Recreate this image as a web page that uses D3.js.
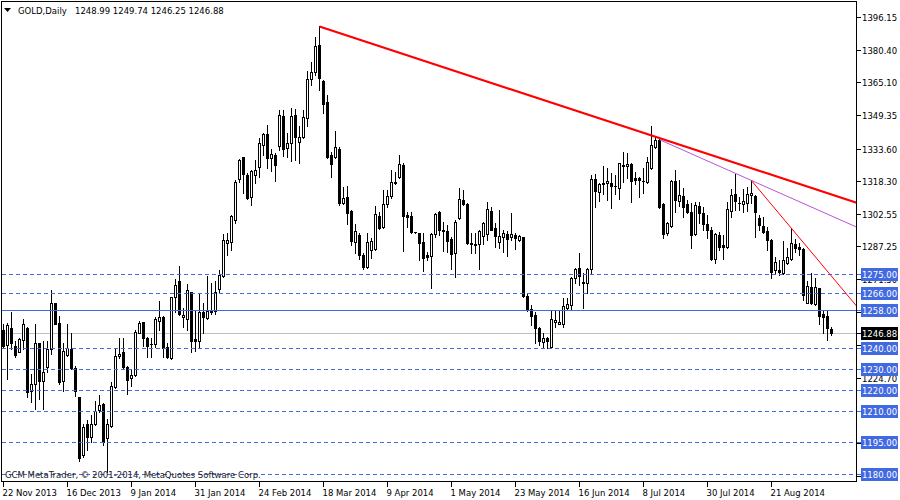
<!DOCTYPE html>
<html><head><meta charset="utf-8">
<script src="https://cdn.jsdelivr.net/npm/d3@7"></script>
<style>
html,body{margin:0;padding:0;background:#fff;}
svg{display:block;}
text{font-family:"DejaVu Sans",sans-serif;font-size:8.5px;}
</style></head><body>
<svg id="c" width="900" height="500"></svg>
<script>
const symbolTitle = "GOLD,Daily";
const lastQuote = ["1248.99","1249.74","1246.25","1246.88"];

const openP = [1248.3,1241.3,1249.3,1241.0,1238.1,1243.6,1249.3,1219.7,1222.8,1242.2,
1224.4,1230.7,1239.4,1261.4,1251.7,1224.4,1236.5,1239.4,1230.4,1216.8,
1189.0,1203.9,1197.6,1203.9,1210.5,1213.4,1197.3,1202.7,1221.3,1236.2,
1237.8,1231.0,1225.7,1227.2,1247.2,1252.4,1244.5,1241.7,1241.7,1252.9,
1254.8,1240.6,1235.0,1264.0,1271.8,1254.5,1253.6,1266.4,1244.0,1243.3,
1257.2,1254.0,1257.2,1257.5,1267.8,1274.2,1290.0,1290.5,1300.8,1320.1,
1330.6,1322.2,1311.9,1322.2,1325.9,1336.5,1341.7,1330.1,1331.7,1336.0,
1350.3,1335.2,1337.3,1350.8,1338.0,1340.1,1349.2,1367.7,1371.0,1384.0,
1366.9,1356.8,1331.7,1330.6,1334.6,1308.7,1311.6,1305.1,1290.5,1293.7,
1284.2,1278.6,1286.5,1286.9,1302.7,1297.3,1308.3,1312.2,1318.7,1321.1,
1327.0,1303.0,1302.7,1295.1,1294.5,1290.5,1284.2,1283.8,1294.0,1304.5,
1296.1,1295.7,1291.6,1284.9,1301.6,1310.3,1308.4,1290.0,1289.4,1289.4,
1293.4,1294.0,1305.2,1296.8,1290.5,1292.9,1294.0,1292.6,1293.7,1291.3,
1292.6,1264.7,1258.3,1255.6,1249.3,1243.0,1244.5,1240.6,1252.5,1251.4,
1251.4,1258.8,1260.4,1273.4,1277.8,1271.3,1271.0,1277.4,1320.1,1314.3,
1317.8,1318.2,1318.6,1317.0,1315.9,1326.5,1326.5,1327.4,1320.6,1320.6,
1319.5,1319.0,1325.4,1335.7,1338.9,1308.4,1294.5,1297.9,1319.4,1310.0,
1312.2,1308.4,1304.8,1294.0,1307.5,1304.0,1298.9,1296.0,1282.2,1293.7,
1288.9,1287.8,1305.2,1313.2,1309.0,1308.2,1308.7,1312.7,1312.2,1301.6,
1297.9,1295.7,1291.3,1277.0,1277.0,1275.4,1280.5,1282.1,1289.4,1287.8,
1286.8,1261.5,1269.1,1260.8,1268.3,1256.1,1255.1,1248.99];

const highP = [1251.2,1252.0,1257.2,1243.3,1244.9,1253.5,1249.9,1227.6,1251.2,1242.5,
1243.3,1243.3,1267.4,1261.4,1255.1,1242.5,1251.2,1247.2,1231.5,1216.8,
1203.9,1205.5,1207.9,1214.9,1217.8,1213.7,1206.3,1223.6,1239.4,1244.9,
1244.9,1231.5,1229.9,1248.3,1252.8,1252.4,1245.3,1244.8,1254.8,1262.3,
1255.3,1242.1,1264.3,1272.6,1278.9,1258.8,1270.4,1266.7,1258.0,1266.2,
1261.5,1274.2,1270.7,1271.9,1277.0,1294.1,1294.5,1303.2,1319.8,1329.6,
1330.9,1323.0,1324.6,1329.3,1339.6,1342.0,1346.0,1334.4,1332.8,1353.0,
1353.1,1342.0,1353.9,1353.4,1345.5,1353.1,1371.8,1376.1,1388.0,1393.1,
1367.4,1360.3,1333.3,1343.1,1335.4,1316.7,1317.1,1305.6,1298.9,1294.5,
1284.9,1294.5,1292.1,1307.5,1304.8,1315.1,1315.1,1324.6,1323.8,1331.7,
1327.8,1304.5,1304.8,1295.3,1294.8,1294.8,1285.7,1294.8,1304.3,1305.2,
1300.0,1298.4,1292.9,1300.8,1315.9,1315.1,1309.0,1294.5,1294.5,1296.0,
1300.0,1309.2,1307.1,1299.2,1305.6,1296.0,1295.6,1304.3,1294.8,1293.7,
1292.9,1265.6,1260.4,1257.2,1250.1,1247.2,1245.3,1258.0,1258.0,1258.0,
1263.9,1263.6,1273.9,1277.8,1284.9,1275.8,1277.8,1322.2,1322.7,1318.6,
1326.5,1325.4,1323.0,1322.2,1328.1,1333.3,1332.5,1328.1,1323.8,1321.4,
1325.4,1331.0,1345.5,1340.4,1339.6,1308.7,1300.0,1319.8,1324.6,1319.8,
1315.9,1310.3,1309.0,1309.5,1309.5,1307.1,1303.2,1297.6,1294.8,1295.3,
1293.7,1309.5,1315.4,1322.7,1311.9,1315.4,1316.6,1319.8,1312.7,1303.2,
1302.4,1297.6,1291.6,1283.4,1281.8,1290.9,1287.3,1296.8,1291.8,1290.0,
1287.3,1271.9,1275.4,1273.1,1268.6,1257.7,1257.7,1249.74];

const lowP = [1239.8,1225.2,1239.4,1235.8,1237.8,1239.4,1216.8,1214.2,1211.0,1215.7,
1211.0,1228.3,1237.0,1251.2,1222.8,1219.7,1236.2,1229.9,1217.3,1186.3,
1188.2,1191.6,1195.3,1203.2,1209.4,1193.7,1180.9,1202.4,1220.8,1235.4,
1230.4,1218.1,1222.0,1226.8,1247.2,1241.0,1235.8,1235.8,1240.6,1248.5,
1235.5,1235.0,1234.5,1257.2,1255.6,1250.1,1248.5,1238.2,1238.7,1240.2,
1246.9,1253.6,1256.1,1256.1,1266.7,1273.5,1284.2,1286.5,1299.5,1319.0,
1313.5,1310.6,1307.9,1318.5,1321.4,1331.7,1325.4,1324.1,1319.5,1334.0,
1331.2,1330.9,1329.0,1329.4,1328.1,1339.6,1345.5,1365.0,1369.8,1362.6,
1351.5,1330.2,1321.1,1330.2,1307.9,1308.4,1298.9,1288.9,1284.9,1282.1,
1277.4,1277.8,1282.6,1286.5,1296.4,1296.9,1307.2,1311.1,1317.9,1320.6,
1286.2,1297.6,1294.8,1294.6,1281.8,1276.7,1281.8,1268.3,1292.9,1293.7,
1286.0,1285.7,1277.3,1273.5,1301.1,1308.0,1289.4,1285.0,1285.0,1277.5,
1289.4,1291.3,1296.1,1287.8,1287.3,1285.7,1283.7,1291.3,1286.9,1291.0,
1264.0,1257.7,1250.9,1242.1,1241.4,1239.8,1239.8,1240.6,1250.1,1251.4,
1250.1,1258.0,1258.3,1270.7,1269.9,1258.8,1265.9,1275.5,1306.9,1310.0,
1313.2,1310.3,1306.4,1313.2,1310.6,1319.0,1320.6,1309.5,1317.9,1311.9,
1313.8,1318.2,1324.9,1334.9,1306.4,1292.1,1293.7,1297.6,1304.8,1307.5,
1302.4,1304.0,1287.7,1293.7,1299.2,1296.1,1292.1,1281.8,1280.2,1286.5,
1282.1,1287.3,1302.4,1305.5,1305.5,1304.8,1305.2,1308.7,1292.5,1296.0,
1294.8,1286.5,1273.1,1275.4,1274.6,1275.1,1279.9,1281.8,1285.7,1284.1,
1262.7,1261.2,1260.8,1260.4,1251.3,1247.2,1243.7,1246.25];

const closeP = [1241.0,1250.7,1242.2,1236.5,1244.1,1251.2,1218.9,1222.8,1242.5,1224.4,
1228.3,1239.4,1261.1,1251.5,1223.6,1238.6,1239.9,1230.4,1219.7,1187.4,
1202.4,1197.6,1203.9,1210.2,1212.6,1195.3,1203.9,1222.0,1235.9,1237.0,
1230.7,1224.7,1227.2,1247.7,1252.0,1244.9,1240.9,1241.8,1253.6,1254.5,
1240.1,1235.8,1264.0,1269.9,1256.1,1255.6,1267.5,1243.3,1243.4,1256.9,
1254.5,1257.5,1257.5,1266.7,1274.7,1291.3,1291.3,1302.7,1319.0,1329.3,
1322.7,1311.1,1324.3,1324.6,1337.3,1341.5,1330.1,1332.0,1327.0,1350.7,
1334.4,1337.3,1350.4,1340.4,1340.1,1350.0,1367.7,1371.0,1383.6,1368.2,
1355.8,1330.6,1327.4,1335.4,1308.7,1311.1,1304.3,1291.0,1295.6,1284.2,
1278.6,1290.5,1291.0,1303.7,1296.9,1308.4,1312.2,1318.7,1318.3,1327.3,
1302.9,1302.4,1295.3,1294.9,1290.0,1282.9,1283.4,1294.0,1303.7,1296.1,
1295.6,1291.0,1284.5,1299.7,1310.6,1308.4,1289.7,1289.2,1289.1,1295.7,
1299.5,1305.9,1296.1,1293.4,1293.2,1294.5,1291.8,1294.0,1292.4,1293.2,
1264.7,1258.3,1255.3,1249.3,1243.4,1244.5,1243.4,1253.6,1253.2,1252.5,
1259.9,1260.9,1273.1,1277.4,1274.2,1270.7,1277.4,1320.1,1314.8,1317.8,
1318.6,1319.4,1317.0,1316.8,1327.8,1327.0,1327.4,1319.5,1319.8,1319.8,
1319.4,1328.5,1336.5,1338.9,1307.1,1294.0,1299.2,1319.4,1310.3,1312.7,
1306.8,1304.8,1293.7,1307.9,1304.3,1298.9,1296.0,1282.2,1294.1,1287.8,
1288.1,1305.9,1312.7,1310.0,1308.7,1310.0,1313.2,1313.5,1304.8,1298.4,
1295.2,1291.3,1276.2,1281.0,1276.2,1281.8,1283.4,1289.7,1287.3,1286.8,
1265.1,1269.4,1261.5,1268.8,1255.1,1254.8,1249.3,1246.88];

const xTickLabels = ["22 Nov 2013","16 Dec 2013","9 Jan 2014","31 Jan 2014","24 Feb 2014",
"18 Mar 2014","9 Apr 2014","1 May 2014","23 May 2014","16 Jun 2014","8 Jul 2014",
"30 Jul 2014","21 Aug 2014"];
const barsPerXTick = 16;

const yTickValues = [1396.15,1380.40,1365.10,1349.35,1333.60,1318.30,1302.55,1287.25,
1271.50,1255.75,1240.00,1224.70,1208.95,1193.65,1177.90];

const dashedLevels = [1275,1266,1240,1230,1220,1210,1195,1180];
const solidLevels = [1258];
const bidPrice = 1246.88;

const trendThick = [[79,1392.8],[163,1340.4]];
const trendViolet = [[164,1339.0],[187,1319.6]];
const trendThin = [[187,1319.5],[197,1296.8]];

const copyrightText = "GCM MetaTrader, \u00A9 2001-2014, MetaQuotes Software Corp.";

// ---------- layout ----------
const W = 900, H = 500;
const plot = {left: 1.5, right: 856.5, top: 1.5, bottom: 481.5};
const svg = d3.select("#c");

const x = d3.scaleLinear().domain([0, openP.length - 1]).range([3.5, 3.5 + 4 * (openP.length - 1)]);
const y = d3.scaleLinear().domain([1180, 1396.15]).range([474, 474 - 216.15 * 2.1026]);

svg.append("rect").attr("width", W).attr("height", H).attr("fill", "#fff");

svg.append("defs").append("clipPath").attr("id", "clip")
  .append("rect").attr("x", plot.left).attr("y", plot.top)
  .attr("width", plot.right - plot.left).attr("height", plot.bottom - plot.top);

const g = svg.append("g").attr("clip-path", "url(#clip)");
const ry = v => Math.round(y(v)) + 0.5;

// bid line (behind bars)
g.append("line").attr("x1", plot.left).attr("x2", plot.right)
  .attr("y1", ry(bidPrice)).attr("y2", ry(bidPrice))
  .attr("stroke", "#c0c0c0").attr("stroke-width", 1).attr("shape-rendering", "crispEdges");

// candles
const bars = g.append("g").attr("shape-rendering", "crispEdges");
openP.forEach((o, i) => {
  const cx = x(i), c = closeP[i];
  const yH = Math.round(y(highP[i])), yL = Math.round(y(lowP[i]));
  const yO = Math.round(y(o)), yC = Math.round(y(c));
  bars.append("line").attr("x1", cx).attr("x2", cx).attr("y1", yH).attr("y2", yL + 1)
    .attr("stroke", "#000").attr("stroke-width", 1);
  const top = Math.min(yO, yC), bot = Math.max(yO, yC);
  if (bot - top < 1) {
    bars.append("line").attr("x1", cx - 1.5).attr("x2", cx + 1.5)
      .attr("y1", top + 0.5).attr("y2", top + 0.5).attr("stroke", "#000");
  } else {
    bars.append("rect").attr("x", cx - 1).attr("y", top + 0.5)
      .attr("width", 2).attr("height", bot - top)
      .attr("fill", c >= o ? "#fff" : "#000").attr("stroke", "#000").attr("stroke-width", 1);
  }
});

// horizontal levels
const levelColor = "#4169e1";
dashedLevels.forEach(v => {
  g.append("line").attr("x1", plot.left).attr("x2", plot.right)
    .attr("y1", ry(v)).attr("y2", ry(v)).attr("stroke", levelColor)
    .attr("stroke-dasharray", "4,3").attr("shape-rendering", "crispEdges");
});
solidLevels.forEach(v => {
  g.append("line").attr("x1", plot.left).attr("x2", plot.right)
    .attr("y1", ry(v)).attr("y2", ry(v)).attr("stroke", levelColor)
    .attr("shape-rendering", "crispEdges");
});

// trend lines (rays to the right)
const xEnd = x.invert(plot.right + 1);
function ray(pts, color, width) {
  const [[i1, p1], [i2, p2]] = pts;
  const slope = (p2 - p1) / (i2 - i1);
  g.append("line").attr("x1", x(i1)).attr("y1", y(p1))
    .attr("x2", x(xEnd)).attr("y2", y(p1 + slope * (xEnd - i1)))
    .attr("stroke", color).attr("stroke-width", width);
}
ray(trendViolet, "#ba55d3", 1);
ray(trendThin, "#ff0000", 1);
ray(trendThick, "#ff0000", 2.2);

// frame
svg.append("rect").attr("x", plot.left).attr("y", plot.top)
  .attr("width", plot.right - plot.left).attr("height", plot.bottom - plot.top)
  .attr("fill", "none").attr("stroke", "#000").attr("shape-rendering", "crispEdges");

// copyright
svg.append("text").attr("x", 5).attr("y", 477.5).attr("fill", "#202020").text(copyrightText);

// header
svg.append("path").attr("d", "M4,8 L11,8 L7.5,12 Z").attr("fill", "#000");
svg.append("text").attr("x", 18).attr("y", 14).attr("fill", "#000").text(symbolTitle);
svg.append("text").attr("x", 75).attr("y", 14).attr("fill", "#000").text(lastQuote.join(" "));

// right axis ticks
const yAxisG = svg.append("g");
yTickValues.forEach(v => {
  const yy = Math.round(y(v) - 2.5) + 0.5;
  if (yy < plot.top || yy > plot.bottom) return;
  yAxisG.append("line").attr("x1", plot.right).attr("x2", plot.right + 4)
    .attr("y1", yy).attr("y2", yy).attr("stroke", "#000").attr("shape-rendering", "crispEdges");
  yAxisG.append("text").attr("x", 862).attr("y", yy + 3).attr("fill", "#000").text(v.toFixed(2));
});

// level boxes
function box(v, color) {
  const yy = Math.round(y(v));
  svg.append("line").attr("x1", plot.right).attr("x2", plot.right + 4)
    .attr("y1", yy + 0.5).attr("y2", yy + 0.5).attr("stroke", color).attr("shape-rendering", "crispEdges");
  svg.append("rect").attr("x", 861).attr("y", yy - 6).attr("width", 37).attr("height", 13)
    .attr("fill", color);
  svg.append("text").attr("x", 879.5).attr("y", yy + 3.5).attr("text-anchor", "middle")
    .attr("fill", "#fff").text(v.toFixed(2));
}
dashedLevels.concat(solidLevels).forEach(v => box(v, levelColor));
box(bidPrice, "#000");

// bottom axis
xTickLabels.forEach((lab, k) => {
  const xx = x(k * barsPerXTick);
  svg.append("line").attr("x1", xx).attr("x2", xx).attr("y1", plot.bottom).attr("y2", plot.bottom + 5)
    .attr("stroke", "#000").attr("shape-rendering", "crispEdges");
  svg.append("text").attr("x", xx - 1).attr("y", 496).attr("fill", "#000").text(lab);
});
</script>
</body></html>
